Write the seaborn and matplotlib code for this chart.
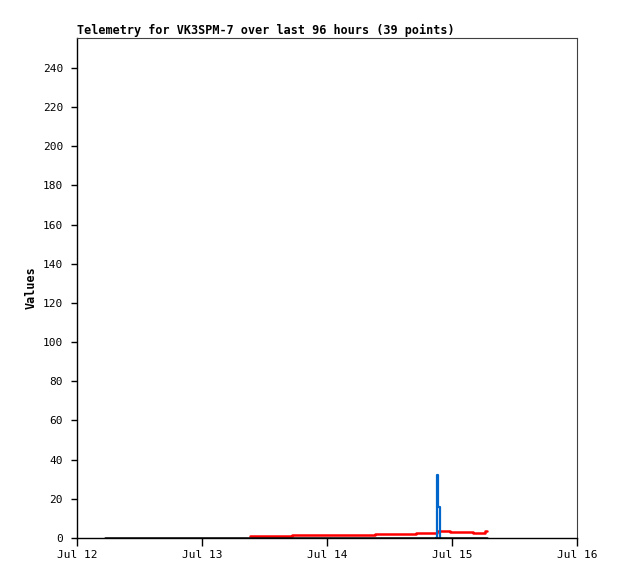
import matplotlib

matplotlib.use("Agg")

from datetime import datetime, timedelta

import matplotlib.dates as mdates
import matplotlib.pyplot as plt
import pandas as pd
import seaborn as sns

START = datetime(2023, 7, 12)

# hours after Jul 12 00:00
black_hours = [5.4, 20.0, 40.0, 60.0, 78.7]
black_values = [0.0, 0.0, 0.0, 0.0, 0.0]

red_hours = [33.2, 41.3, 49.2, 57.2, 65.1, 69.1, 71.6, 76.0, 78.3, 78.7]
red_values = [1.0, 1.4, 1.7, 2.2, 2.7, 3.7, 3.2, 2.5, 3.6, 3.6]

blue_hours = [68.9, 69.1, 69.4, 69.6]
blue_values = [0.0, 32.0, 16.0, 0.0]

y_ticks = list(range(0, 241, 20))
title = "Telemetry for VK3SPM-7 over last 96 hours (39 points)"


def to_frame(hours, values):
    return pd.DataFrame(
        {"time": [START + timedelta(hours=h) for h in hours], "value": values}
    )


sns.set_style("ticks")
plt.rcParams["font.family"] = ["DejaVu Sans Mono", "DejaVu Sans"]
plt.rcParams["font.size"] = 8
plt.rcParams["text.color"] = "black"
plt.rcParams["axes.labelcolor"] = "black"

fig = plt.figure(figsize=(6.18, 5.79), dpi=100)
ax = fig.add_axes([77 / 618, 41 / 579, 500 / 618, 500 / 579])

sns.lineplot(data=to_frame(red_hours, red_values), x="time", y="value", ax=ax,
             color="#ff0000", linewidth=1.8, drawstyle="steps-post", zorder=3)
sns.lineplot(data=to_frame(blue_hours, blue_values), x="time", y="value", ax=ax,
             color="#0066cc", linewidth=1.6, drawstyle="steps-post", zorder=4)
sns.lineplot(data=to_frame(black_hours, black_values), x="time", y="value", ax=ax,
             color="#000000", linewidth=1.8, drawstyle="steps-post", zorder=5)

ax.set_xlim(START, START + timedelta(days=4))
ax.set_ylim(0, 255.3)
ax.set_yticks(y_ticks)
ax.xaxis.set_major_locator(mdates.DayLocator())
ax.xaxis.set_major_formatter(mdates.DateFormatter("%b %d"))

for side in ["top", "right"]:
    ax.spines[side].set_color("#404040")
    ax.spines[side].set_linewidth(0.8)
for side in ["left", "bottom"]:
    ax.spines[side].set_color("black")
    ax.spines[side].set_linewidth(1.0)

ax.tick_params(axis="y", length=4.5, width=1, pad=5.5, labelsize=8, colors="black")
ax.tick_params(axis="x", length=6, width=1, pad=3, labelsize=8, colors="black")

ax.set_xlabel("")
ax.set_ylabel("Values", fontweight="bold", fontsize=8.5, labelpad=4)
ax.set_title(title, loc="left", fontweight="bold", fontsize=8.5, pad=3)

fig.savefig("out.png", dpi=100, facecolor="white")
